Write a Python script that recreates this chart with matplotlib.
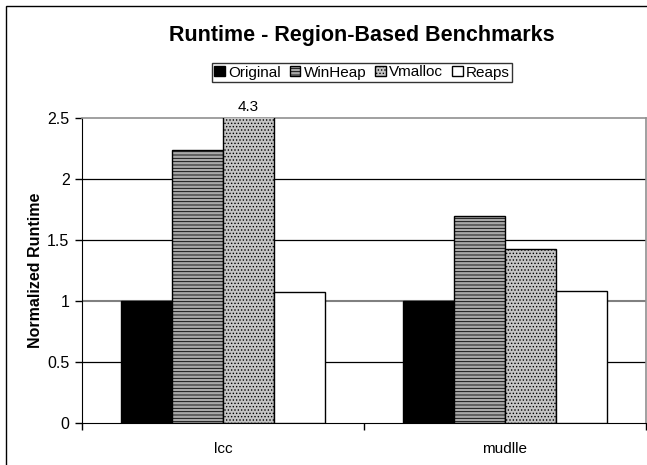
import matplotlib
matplotlib.use('Agg')
import matplotlib.pyplot as plt
import numpy as np
from matplotlib.patches import Rectangle

plt.rcParams['font.family'] = ['Liberation Sans', 'DejaVu Sans']
plt.rcParams['hatch.linewidth'] = 0.6

# data
benchmarks = ['lcc', 'mudlle']
series = ['Original', 'WinHeap', 'Vmalloc', 'Reaps']
original = [1.0, 1.0]
winheap = [2.24, 1.70]
vmalloc = [4.3, 1.43]
reaps = [1.07, 1.08]
yticks = [0, 0.5, 1, 1.5, 2, 2.5]
ytick_labels = ['0', '0.5', '1', '1.5', '2', '2.5']

values = [original, winheap, vmalloc, reaps]
faces = ['black', '#a8a8a8', '#c4c4c4', 'white']
hatches = [None, '-----', '.....', None]

fig = plt.figure(figsize=(6.47, 4.65), dpi=100)
# outer chart frame
fig.patches.append(Rectangle((6/647, -0.05), 1.1, 1 - 6/465 + 0.05,
                             transform=fig.transFigure, fill=False,
                             edgecolor='black', lw=1))
ax = fig.add_axes([82/647, 1 - 423/465, 564/647, 305/465])

x = np.arange(len(benchmarks))
w = 0.18
for i, (vals, name) in enumerate(zip(values, series)):
    pos = x + (i - 1.5) * w
    ax.bar(pos, vals, w, color=faces[i], hatch=hatches[i], edgecolor='black',
           lw=1, label=name, zorder=3)

ax.set_ylim(0, 2.5)
ax.set_xlim(-0.5, 1.5)

# value above the clipped bar
ax.text(x[0] + 0.5 * w, 2.5 + 0.03, '4.3', ha='center', va='bottom', fontsize=11)

for y in [0.5, 1.5, 2]:
    ax.axhline(y, color='black', lw=0.9, zorder=1)
ax.axhline(1, color='#808080', lw=1.5, zorder=1)

ax.set_yticks(yticks)
ax.set_yticklabels(ytick_labels, fontsize=11.5)
ax.set_xticks([-0.5, 0.5, 1.5])
ax.set_xticklabels([])
ax.set_xticks(x, minor=True)
ax.set_xticklabels(benchmarks, minor=True, fontsize=11)
ax.tick_params(axis='x', which='minor', length=0, pad=14)
ax.tick_params(axis='both', which='major', direction='out', length=5, width=1)
ax.tick_params(axis='y', pad=4)

for s in ['top', 'right']:
    ax.spines[s].set_color('#909090')
    ax.spines[s].set_linewidth(1.2)
for s in ['left', 'bottom']:
    ax.spines[s].set_color('black')

ax.set_ylabel('Normalized Runtime', fontsize=11.5, fontweight='bold', labelpad=3)

fig.text(362/647, 1 - 35/465, 'Runtime - Region-Based Benchmarks', ha='center',
         va='center', fontsize=15.5, fontweight='bold')

leg = fig.legend(loc='center', bbox_to_anchor=(362/647, 1 - 72.5/465), ncol=4,
                 fontsize=11, frameon=True, fancybox=False, handlelength=0.7,
                 handleheight=0.7, handletextpad=0.2, columnspacing=0.6,
                 borderpad=0.15, borderaxespad=0)
leg.get_frame().set_edgecolor('black')
leg.get_frame().set_linewidth(1)

fig.savefig('out.png', dpi=100)
